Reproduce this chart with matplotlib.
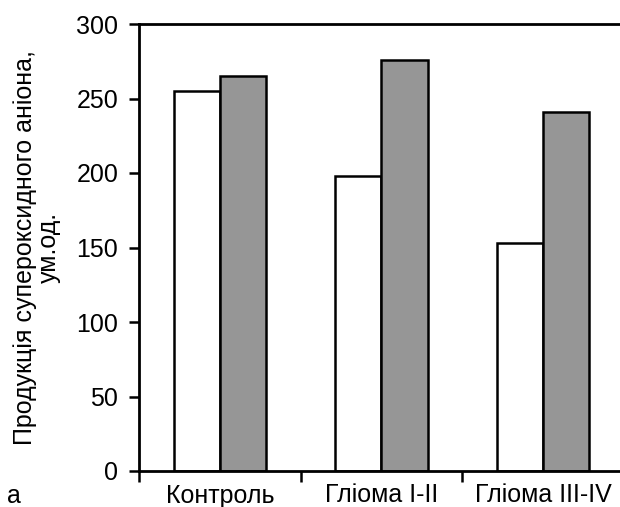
import matplotlib
matplotlib.use("Agg")
import matplotlib.pyplot as plt
import numpy as np

plt.rcParams['font.family'] = ['Liberation Sans', 'DejaVu Sans']

categories = ["Контроль", "Гліома I-II", "Гліома III-IV"]
series_white = [255, 198, 153]
series_gray = [265, 276, 241]
y_ticks = [0, 50, 100, 150, 200, 250, 300]
y_label = "Продукція супероксидного аніона,\nум.од."

fig = plt.figure(figsize=(6.2, 5.07), dpi=100)
W, H = 620, 507
left, right, top, bottom = 139, 624, 24, 471
ax = fig.add_axes([left / W, 1 - bottom / H, (right - left) / W, (bottom - top) / H])

x = np.arange(len(categories))
bw = 0.285
ax.bar(x - bw / 2, series_white, width=bw, color="white", edgecolor="black", linewidth=1.8)
ax.bar(x + bw / 2, series_gray, width=bw, color="#969696", edgecolor="black", linewidth=1.8)

ax.set_xlim(-0.5, 2.5)
ax.set_ylim(0, 300)
ax.set_yticks(y_ticks)
ax.tick_params(axis='y', direction='out', length=7, width=1.8, labelsize=18, pad=8)

ax.set_xticks(x)
ax.set_xticklabels(categories, fontsize=18)
ax.tick_params(axis='x', which='major', length=0, pad=9)
ax.set_xticks([-0.5, 0.5, 1.5], minor=True)
ax.tick_params(axis='x', which='minor', direction='out', length=8, width=1.8)

for s in ['left', 'bottom', 'top']:
    ax.spines[s].set_linewidth(2)
ax.spines['right'].set_visible(False)

ax.set_ylabel(y_label, fontsize=18, linespacing=1.0)
ax.yaxis.set_label_coords(-(left - 61) / (right - left), 0.5)
fig.text(7 / W, 1 - 503 / H, "а", fontsize=18, va='baseline', ha='left')

fig.savefig("out.png", dpi=100)
